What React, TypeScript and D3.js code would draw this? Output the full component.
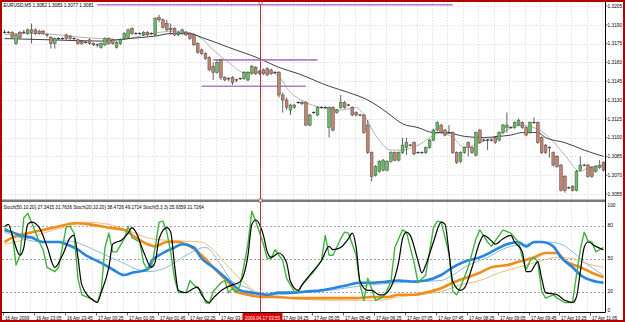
import React, { useEffect, useRef } from 'react';
import * as d3 from 'd3';

// header texts as shown on the chart
const symbolText = 'EURUSD,M5  1.3082 1.3083 1.3077 1.3081';
const stochText = 'Stoch(50,10,20) 27.3415 31.7636  Stoch(20,10,20) 38.4726 49.1714  Stoch(5,3,3) 25.9359 21.7264';

const firstBarTime = new Date(2009, 3, 16, 22, 25);
const barMinutes = 5;
const cursorTime = new Date(2009, 3, 17, 3, 55);
const cursorLabel = '2009.04.17 03:55';

const tickTimes = [
  new Date(2009, 3, 16, 22, 25), new Date(2009, 3, 16, 23, 5), new Date(2009, 3, 16, 23, 45),
  new Date(2009, 3, 17, 0, 25), new Date(2009, 3, 17, 1, 5), new Date(2009, 3, 17, 1, 45),
  new Date(2009, 3, 17, 2, 25), new Date(2009, 3, 17, 3, 5), new Date(2009, 3, 17, 3, 45),
  new Date(2009, 3, 17, 4, 25), new Date(2009, 3, 17, 5, 5), new Date(2009, 3, 17, 5, 45),
  new Date(2009, 3, 17, 6, 25), new Date(2009, 3, 17, 7, 5), new Date(2009, 3, 17, 7, 45),
  new Date(2009, 3, 17, 8, 25), new Date(2009, 3, 17, 9, 5), new Date(2009, 3, 17, 9, 45),
  new Date(2009, 3, 17, 10, 25), new Date(2009, 3, 17, 11, 5)
];
const tickLabels = [
  '16 Apr 2009', '16 Apr 23:05', '16 Apr 23:45', '17 Apr 00:25', '17 Apr 01:05', '17 Apr 01:45',
  '17 Apr 02:25', '17 Apr 03:05', '17 Apr 03:45', '17 Apr 04:25', '17 Apr 05:05', '17 Apr 05:45',
  '17 Apr 06:25', '17 Apr 07:05', '17 Apr 07:45', '17 Apr 08:25', '17 Apr 09:05', '17 Apr 09:45',
  '17 Apr 10:25', '17 Apr 11:05'
];

const priceTicks = [1.3055, 1.307, 1.3085, 1.31, 1.3115, 1.313, 1.3145, 1.316, 1.3175, 1.319, 1.3205];
const stochTicks = [0, 20, 50, 80, 100];
const stochLevels = [20, 50, 80];

// OHLC, one entry per M5 bar
const opens = [
  1.3184, 1.3184, 1.3184, 1.3175, 1.3184, 1.3184, 1.3183, 1.3186, 1.3186, 1.3185,
  1.3185, 1.3182, 1.3180, 1.3175, 1.3179, 1.3179, 1.3182, 1.3181, 1.3179, 1.3178,
  1.3177, 1.3176, 1.3178, 1.3175, 1.3174, 1.3172, 1.3174, 1.3179, 1.3178, 1.3172,
  1.3175, 1.3179, 1.3180, 1.3187, 1.3183, 1.3183, 1.3182, 1.3184, 1.3183, 1.3182,
  1.3196, 1.3194, 1.3191, 1.3187, 1.3187, 1.3182, 1.3183, 1.3184, 1.3183, 1.3182,
  1.3175, 1.3170, 1.3167, 1.3164, 1.3157, 1.3152, 1.3162, 1.3148, 1.3147, 1.3148,
  1.3146, 1.3147, 1.3147, 1.3146, 1.3151, 1.3156, 1.3153, 1.3154, 1.3155, 1.3154,
  1.3152, 1.3152, 1.3134, 1.3130, 1.3122, 1.3124, 1.3128, 1.3128, 1.3128, 1.3110,
  1.3120, 1.3118, 1.3124, 1.3124, 1.3108, 1.3124, 1.3120, 1.3124, 1.3128, 1.3126,
  1.3124, 1.3120, 1.3118, 1.3118, 1.3110, 1.3088, 1.3070, 1.3073, 1.3074, 1.3074,
  1.3081, 1.3088, 1.3082, 1.3088, 1.3092, 1.3094, 1.3096, 1.3088, 1.3088, 1.3088,
  1.3092, 1.3098, 1.3106, 1.3110, 1.3106, 1.3104, 1.3104, 1.3088, 1.3081, 1.3088,
  1.3096, 1.3092, 1.3086, 1.3106, 1.3098, 1.3098, 1.3098, 1.3100, 1.3098, 1.3104,
  1.3108, 1.3108, 1.3108, 1.3110, 1.3112, 1.3108, 1.3104, 1.3112, 1.3112, 1.3100,
  1.3094, 1.3092, 1.3088, 1.3085, 1.3078, 1.3069, 1.3060, 1.3061, 1.3058, 1.3074,
  1.3078, 1.3078, 1.3076, 1.3073, 1.3076, 1.3080
];
const highs = [
  1.3186, 1.3185, 1.3185, 1.3183, 1.3185, 1.3186, 1.3187, 1.3191, 1.3187, 1.3186,
  1.3186, 1.3183, 1.3181, 1.3180, 1.3180, 1.3180, 1.3183, 1.3182, 1.3180, 1.3179,
  1.3178, 1.3177, 1.3179, 1.3176, 1.3175, 1.3176, 1.3180, 1.3180, 1.3179, 1.3177,
  1.3179, 1.3184, 1.3187, 1.3188, 1.3184, 1.3184, 1.3185, 1.3185, 1.3184, 1.3196,
  1.3198, 1.3195, 1.3194, 1.3191, 1.3188, 1.3185, 1.3187, 1.3185, 1.3184, 1.3183,
  1.3176, 1.3171, 1.3168, 1.3165, 1.3160, 1.3162, 1.3163, 1.3149, 1.3148, 1.3149,
  1.3147, 1.3148, 1.3153, 1.3153, 1.3158, 1.3157, 1.3154, 1.3155, 1.3156, 1.3155,
  1.3153, 1.3153, 1.3136, 1.3132, 1.3127, 1.3127, 1.3129, 1.3129, 1.3129, 1.3119,
  1.3121, 1.3125, 1.3125, 1.3125, 1.3125, 1.3125, 1.3123, 1.3134, 1.3129, 1.3127,
  1.3125, 1.3121, 1.3119, 1.3119, 1.3114, 1.3089, 1.3078, 1.3082, 1.3083, 1.3082,
  1.3089, 1.3089, 1.3089, 1.3100, 1.3100, 1.3095, 1.3097, 1.3089, 1.3089, 1.3093,
  1.3099, 1.3107, 1.3113, 1.3111, 1.3107, 1.3110, 1.3105, 1.3089, 1.3089, 1.3093,
  1.3097, 1.3093, 1.3105, 1.3107, 1.3099, 1.3099, 1.3099, 1.3101, 1.3105, 1.3111,
  1.3120, 1.3109, 1.3113, 1.3115, 1.3113, 1.3109, 1.3113, 1.3116, 1.3113, 1.3101,
  1.3095, 1.3093, 1.3089, 1.3086, 1.3079, 1.3070, 1.3061, 1.3062, 1.3074, 1.3085,
  1.3079, 1.3079, 1.3077, 1.3078, 1.3082, 1.3081
];
const lows = [
  1.3183, 1.3183, 1.3179, 1.3174, 1.3179, 1.3183, 1.3182, 1.3175, 1.3182, 1.3182,
  1.3182, 1.3180, 1.3171, 1.3171, 1.3178, 1.3178, 1.3178, 1.3178, 1.3177, 1.3174,
  1.3174, 1.3175, 1.3174, 1.3173, 1.3172, 1.3171, 1.3173, 1.3174, 1.3174, 1.3171,
  1.3174, 1.3178, 1.3179, 1.3182, 1.3182, 1.3182, 1.3181, 1.3181, 1.3182, 1.3181,
  1.3192, 1.3187, 1.3185, 1.3182, 1.3181, 1.3181, 1.3182, 1.3181, 1.3178, 1.3173,
  1.3167, 1.3166, 1.3162, 1.3153, 1.3146, 1.3151, 1.3146, 1.3145, 1.3145, 1.3142,
  1.3144, 1.3146, 1.3146, 1.3145, 1.3150, 1.3150, 1.3150, 1.3150, 1.3149, 1.3150,
  1.3151, 1.3132, 1.3120, 1.3122, 1.3118, 1.3123, 1.3127, 1.3126, 1.3109, 1.3109,
  1.3119, 1.3117, 1.3123, 1.3123, 1.3100, 1.3105, 1.3119, 1.3123, 1.3123, 1.3125,
  1.3117, 1.3117, 1.3117, 1.3103, 1.3087, 1.3065, 1.3069, 1.3072, 1.3073, 1.3073,
  1.3080, 1.3081, 1.3081, 1.3087, 1.3086, 1.3093, 1.3086, 1.3087, 1.3087, 1.3087,
  1.3091, 1.3097, 1.3105, 1.3103, 1.3101, 1.3103, 1.3087, 1.3079, 1.3080, 1.3087,
  1.3085, 1.3087, 1.3085, 1.3095, 1.3097, 1.3090, 1.3097, 1.3095, 1.3097, 1.3103,
  1.3104, 1.3107, 1.3107, 1.3109, 1.3107, 1.3101, 1.3103, 1.3111, 1.3095, 1.3087,
  1.3087, 1.3084, 1.3077, 1.3076, 1.3057, 1.3056, 1.3059, 1.3057, 1.3057, 1.3073,
  1.3077, 1.3068, 1.3068, 1.3072, 1.3075, 1.3073
];
const closes = [
  1.3184, 1.3184, 1.3180, 1.3182, 1.3180, 1.3184, 1.3186, 1.3184, 1.3183, 1.3183,
  1.3183, 1.3182, 1.3175, 1.3179, 1.3179, 1.3179, 1.3179, 1.3179, 1.3179, 1.3175,
  1.3175, 1.3176, 1.3175, 1.3174, 1.3174, 1.3175, 1.3179, 1.3175, 1.3175, 1.3176,
  1.3178, 1.3183, 1.3186, 1.3183, 1.3183, 1.3183, 1.3184, 1.3182, 1.3183, 1.3195,
  1.3194, 1.3188, 1.3186, 1.3186, 1.3182, 1.3184, 1.3186, 1.3182, 1.3179, 1.3174,
  1.3168, 1.3167, 1.3163, 1.3154, 1.3152, 1.3160, 1.3148, 1.3146, 1.3147, 1.3144,
  1.3146, 1.3147, 1.3152, 1.3152, 1.3157, 1.3151, 1.3151, 1.3151, 1.3150, 1.3151,
  1.3152, 1.3134, 1.3130, 1.3124, 1.3126, 1.3126, 1.3128, 1.3127, 1.3110, 1.3118,
  1.3120, 1.3124, 1.3124, 1.3124, 1.3124, 1.3106, 1.3122, 1.3128, 1.3124, 1.3126,
  1.3118, 1.3118, 1.3118, 1.3104, 1.3088, 1.3069, 1.3077, 1.3081, 1.3082, 1.3081,
  1.3088, 1.3082, 1.3088, 1.3094, 1.3096, 1.3094, 1.3087, 1.3088, 1.3088, 1.3092,
  1.3098, 1.3106, 1.3112, 1.3104, 1.3102, 1.3104, 1.3088, 1.3080, 1.3088, 1.3092,
  1.3092, 1.3088, 1.3104, 1.3096, 1.3098, 1.3098, 1.3098, 1.3096, 1.3104, 1.3110,
  1.3110, 1.3108, 1.3112, 1.3114, 1.3108, 1.3102, 1.3112, 1.3112, 1.3096, 1.3088,
  1.3088, 1.3092, 1.3078, 1.3077, 1.3058, 1.3058, 1.3060, 1.3058, 1.3073, 1.3078,
  1.3078, 1.3069, 1.3069, 1.3077, 1.3078, 1.3074
];

// moving averages on price, [bar, price]
const maSlow = [
  [0, 1.3179], [12, 1.3178], [25, 1.3177], [32, 1.3179], [39, 1.3181], [43, 1.3183], [48, 1.3183],
  [51, 1.3180], [58, 1.3172], [66, 1.3163], [71, 1.3156], [76, 1.3151], [84, 1.3141], [89, 1.3136],
  [94, 1.3130], [99, 1.3120], [103, 1.3111], [107, 1.3108], [111, 1.3104], [114, 1.3104],
  [119, 1.3101], [124, 1.3100], [128, 1.3101], [131, 1.3102], [134, 1.3104], [138, 1.3104],
  [140, 1.3100], [145, 1.3096], [150, 1.3090], [155, 1.3085]
];
const maFast = [
  [0, 1.3182], [4, 1.3183], [9, 1.3183], [14, 1.3182], [20, 1.3180], [25, 1.3179], [30, 1.3178],
  [35, 1.3181], [40, 1.3184], [45, 1.3185], [51, 1.3179], [54, 1.3170], [58, 1.3160], [62, 1.3152],
  [66, 1.3152], [70, 1.3151], [74, 1.3136], [78, 1.3128], [82, 1.3124], [87, 1.3122], [91, 1.3124],
  [93, 1.3118], [96, 1.3102], [100, 1.3090], [103, 1.3090], [107, 1.3094], [113, 1.3104],
  [116, 1.3100], [119, 1.3092], [123, 1.3096], [128, 1.3102], [133, 1.3110], [137, 1.3108],
  [141, 1.3100], [145, 1.3086], [149, 1.3073], [151, 1.3076], [155, 1.3078]
];

// purple horizontal lines: [fromBar, toBar, price]
const levelLines = [
  [24, 116, 1.3206],
  [54, 81, 1.3162],
  [51, 78, 1.3141]
];

// stochastics, [bar, value]
const stoch5Main = [
  [0, 78], [2, 73], [3, 44], [4, 53], [5, 87], [6, 91], [7, 83], [9, 65], [10, 58], [11, 42],
  [13, 38], [14, 42], [16, 79], [17, 79], [18, 73], [19, 32], [20, 17], [22, 14], [24, 10], [25, 20],
  [26, 60], [27, 73], [28, 56], [29, 56], [31, 68], [32, 79], [33, 69], [35, 65], [36, 46], [37, 40],
  [38, 42], [39, 60], [40, 83], [41, 84], [42, 74], [43, 56], [44, 32], [45, 19], [47, 19], [48, 30],
  [49, 26], [51, 20], [52, 10], [53, 9], [54, 20], [56, 28], [57, 30], [58, 19], [59, 23], [60, 19],
  [61, 26], [63, 63], [64, 93], [65, 84], [67, 63], [68, 50], [69, 50], [70, 58], [72, 48], [73, 32],
  [75, 20], [76, 20], [77, 26], [80, 38], [82, 48], [83, 71], [84, 53], [85, 53], [87, 68], [88, 74],
  [89, 73], [91, 53], [92, 26], [93, 12], [94, 32], [95, 23], [96, 12], [98, 15], [99, 21], [100, 29],
  [101, 60], [103, 76], [104, 74], [106, 46], [107, 28], [109, 35], [111, 78], [112, 84], [113, 83],
  [115, 55], [116, 20], [117, 17], [118, 24], [120, 42], [122, 68], [123, 76], [125, 65], [126, 61],
  [127, 66], [129, 76], [131, 73], [133, 65], [134, 51], [135, 40], [136, 48], [137, 51], [138, 47],
  [139, 20], [140, 14], [142, 17], [143, 14], [145, 10], [147, 10], [148, 35], [149, 58], [150, 74],
  [151, 66], [152, 65], [153, 56], [155, 60]
];
const stoch5Signal = [
  [0, 79], [1, 81], [2, 71], [4, 53], [5, 60], [6, 81], [7, 83], [9, 78], [11, 61], [13, 42],
  [15, 53], [17, 69], [18, 71], [19, 51], [20, 26], [23, 12], [24, 10], [25, 19], [27, 42], [28, 63],
  [29, 65], [30, 66], [32, 73], [33, 78], [34, 74], [36, 56], [38, 42], [39, 47], [40, 68], [42, 78],
  [43, 74], [44, 44], [45, 21], [47, 19], [49, 23], [50, 24], [51, 17], [53, 10], [54, 14], [57, 23],
  [59, 26], [61, 29], [63, 53], [64, 81], [65, 85], [67, 71], [68, 56], [69, 51], [71, 55], [73, 46],
  [74, 29], [76, 21], [77, 26], [79, 35], [82, 48], [84, 61], [85, 58], [87, 60], [89, 68], [90, 73],
  [91, 60], [92, 29], [94, 21], [95, 21], [97, 17], [98, 17], [100, 24], [102, 47], [103, 68],
  [104, 74], [105, 71], [107, 48], [108, 37], [109, 44], [111, 65], [113, 83], [114, 81], [115, 56],
  [116, 29], [118, 21], [119, 23], [121, 42], [123, 65], [124, 71], [126, 66], [127, 63], [129, 68],
  [131, 71], [132, 65], [134, 56], [135, 38], [136, 38], [138, 47], [139, 32], [140, 19], [143, 17],
  [145, 12], [147, 10], [148, 15], [149, 38], [150, 60], [151, 65], [153, 61], [155, 58]
];
const stoch20Main = [
  [0, 76], [2, 74], [4, 71], [7, 69], [10, 65], [14, 65], [16, 63], [19, 58], [21, 53], [25, 46],
  [28, 40], [31, 35], [33, 37], [37, 40], [38, 47], [41, 55], [44, 60], [46, 63], [49, 60], [51, 50],
  [54, 42], [58, 30], [61, 21], [64, 19], [68, 17], [71, 19], [75, 19], [78, 20], [82, 21], [85, 23],
  [89, 26], [92, 28], [95, 28], [99, 29], [102, 30], [106, 29], [109, 30], [113, 35], [116, 42],
  [119, 47], [123, 51], [126, 56], [130, 63], [133, 65], [135, 61], [137, 65], [139, 65], [142, 61],
  [144, 51], [147, 42], [149, 35], [152, 30], [155, 28]
];
const stoch20Signal = [
  [0, 74], [10, 65], [16, 66], [25, 55], [30, 47], [37, 38], [42, 42], [47, 53], [52, 60], [56, 44],
  [59, 29], [63, 23], [66, 17], [71, 17], [76, 19], [84, 21], [92, 25], [102, 28], [107, 29],
  [113, 30], [116, 35], [119, 42], [125, 51], [130, 60], [135, 63], [140, 65], [144, 63], [147, 56],
  [150, 47], [155, 35]
];
const stoch50Main = [
  [0, 65], [2, 69], [6, 73], [10, 76], [14, 79], [18, 82], [22, 81], [27, 78], [31, 76], [34, 69],
  [37, 63], [39, 61], [42, 65], [45, 65], [48, 61], [51, 53], [54, 42], [58, 28], [60, 20], [63, 17],
  [67, 15], [70, 15], [75, 14], [79, 14], [83, 14], [87, 14], [91, 14], [95, 15], [99, 15], [102, 17],
  [106, 17], [109, 19], [113, 23], [116, 28], [119, 32], [123, 37], [126, 42], [130, 44], [133, 47],
  [137, 51], [140, 55], [143, 55], [145, 48], [149, 42], [152, 37], [155, 33]
];
const stoch50Signal = [
  [0, 63], [4, 66], [10, 73], [16, 79], [21, 83], [27, 81], [33, 74], [38, 68], [45, 66], [51, 65],
  [53, 61], [58, 42], [62, 28], [65, 20], [68, 17], [74, 14], [84, 12], [97, 12], [102, 15],
  [107, 17], [113, 20], [118, 26], [123, 30], [128, 37], [133, 42], [138, 47], [143, 51], [147, 50],
  [150, 46], [155, 42]
];

const FONT = '"Liberation Sans", Arial, sans-serif';

export default function App() {
  const ref = useRef<SVGSVGElement>(null);

  useEffect(() => {
    const svg = d3.select(ref.current);
    svg.selectAll('*').remove();

    const left = 2, right = 605.5;
    const mainTop = 2, mainBottom = 199;
    const subTop = 202, subBottom = 312.5;
    const n = closes.length;

    const barTime = (i: number) => new Date(firstBarTime.getTime() + i * barMinutes * 60000);
    const x = d3.scaleTime().domain([barTime(0), barTime(n - 1)]).range([4.5, 603.5]);
    const xb = (i: number) => x(barTime(i));
    const y = d3.scaleLinear().domain([1.3055, 1.3205]).range([194, 6]);
    const ys = d3.scaleLinear().domain([0, 100]).range([313.5, 203.5]);

    svg.append('rect').attr('width', 625).attr('height', 322).attr('fill', '#fff');

    // cursor position and its date box on the time axis
    const cx = Math.round(x(cursorTime)) + 0.5;
    const boxLeft = cx - 18, boxWidth = 40;

    const defs = svg.append('defs');
    defs.append('clipPath').attr('id', 'clipMain').append('rect')
      .attr('x', left).attr('y', mainTop).attr('width', right - left).attr('height', mainBottom - mainTop);
    defs.append('clipPath').attr('id', 'clipSub').append('rect')
      .attr('x', left).attr('y', subTop).attr('width', right - left).attr('height', subBottom - subTop);
    defs.append('clipPath').attr('id', 'clipTime').append('rect')
      .attr('x', 0).attr('y', subBottom).attr('width', boxLeft).attr('height', 10);

    // grid
    const grid = svg.append('g').attr('stroke', '#d4d4d4').attr('stroke-width', 0.7).attr('stroke-dasharray', '1.5,1.5');
    const gridTimes = d3.timeMinute.every(20)!.range(barTime(0), barTime(n));
    gridTimes.forEach((t) => {
      const gx = Math.round(x(t) - 1.5) + 0.5;
      grid.append('line').attr('x1', gx).attr('x2', gx).attr('y1', mainTop).attr('y2', mainBottom);
      grid.append('line').attr('x1', gx).attr('x2', gx).attr('y1', subTop).attr('y2', subBottom);
    });
    priceTicks.forEach((p) => {
      const gy = Math.round(y(p)) + 0.5;
      grid.append('line').attr('x1', left).attr('x2', right).attr('y1', gy).attr('y2', gy);
    });
    const lv = svg.append('g').attr('stroke', '#8c8c8c').attr('stroke-width', 0.8).attr('stroke-dasharray', '2,2');
    stochLevels.forEach((v) => {
      const gy = Math.round(ys(v)) + 0.5;
      lv.append('line').attr('x1', left).attr('x2', right).attr('y1', gy).attr('y2', gy);
    });

    // main panel
    const main = svg.append('g').attr('clip-path', 'url(#clipMain)');
    const priceLine = d3.line<number[]>().x((d) => xb(d[0])).y((d) => y(d[1])).curve(d3.curveMonotoneX);
    main.append('path').attr('d', priceLine(maFast)).attr('fill', 'none').attr('stroke', '#a8a8a8').attr('stroke-width', 0.9);
    main.append('path').attr('d', priceLine(maSlow)).attr('fill', 'none').attr('stroke', '#2a2a2a').attr('stroke-width', 0.9);

    levelLines.forEach(([a, b, p]) => {
      main.append('line').attr('x1', xb(a)).attr('x2', xb(b)).attr('y1', y(p)).attr('y2', y(p))
        .attr('stroke', '#b07ec8').attr('stroke-width', 1.6);
    });

    const candles = main.append('g');
    d3.range(n).forEach((i) => {
      const bx = xb(i);
      const o = opens[i], c = closes[i];
      candles.append('line').attr('x1', bx).attr('x2', bx).attr('y1', y(highs[i])).attr('y2', y(lows[i]))
        .attr('stroke', '#3a3a3a').attr('stroke-width', 0.8);
      if (o === c) {
        candles.append('line').attr('x1', bx - 1.6).attr('x2', bx + 1.6).attr('y1', y(c)).attr('y2', y(c))
          .attr('stroke', '#222').attr('stroke-width', 0.9);
      } else {
        const top = y(Math.max(o, c)), bot = y(Math.min(o, c));
        candles.append('rect').attr('x', bx - 1.4).attr('width', 2.8)
          .attr('y', top).attr('height', Math.max(1, bot - top))
          .attr('fill', c > o ? '#62c062' : '#c8826c')
          .attr('stroke', '#4a4a4a').attr('stroke-width', 0.5);
      }
    });

    // stochastic panel
    const sub = svg.append('g').attr('clip-path', 'url(#clipSub)');
    const smooth = d3.line<number[]>().x((d) => xb(d[0])).y((d) => ys(d[1])).curve(d3.curveMonotoneX);
    const sharp = d3.line<number[]>().x((d) => xb(d[0])).y((d) => ys(d[1])).curve(d3.curveLinear);
    const series: [number[][], string, number, any][] = [
      [stoch50Signal, '#f2b36a', 0.9, smooth],
      [stoch20Signal, '#7fb3de', 0.9, smooth],
      [stoch50Main, '#f28c1a', 2.6, smooth],
      [stoch20Main, '#2784df', 2.6, smooth],
      [stoch5Main, '#3fb23f', 1.4, sharp],
      [stoch5Signal, '#000', 1.2, smooth]
    ];
    series.forEach(([d, col, w, gen]) => {
      sub.append('path').attr('d', gen(d)).attr('fill', 'none').attr('stroke', col)
        .attr('stroke-width', w).attr('stroke-linejoin', 'round');
    });

    // separator and axes
    svg.append('rect').attr('x', left).attr('y', 199.5).attr('width', right - left).attr('height', 2.5).attr('fill', '#7a7a7a');
    svg.append('line').attr('x1', right).attr('x2', right).attr('y1', mainTop).attr('y2', subBottom)
      .attr('stroke', '#000').attr('stroke-width', 1);
    svg.append('line').attr('x1', left).attr('x2', right).attr('y1', subBottom).attr('y2', subBottom)
      .attr('stroke', '#000').attr('stroke-width', 1);

    // cursor
    svg.append('line').attr('x1', cx).attr('x2', cx).attr('y1', mainTop).attr('y2', subBottom)
      .attr('stroke', '#a83a3a').attr('stroke-width', 1);
    [mainTop + 1, 200.5].forEach((my) => {
      svg.append('rect').attr('x', cx - 1.5).attr('y', my - 1.5).attr('width', 3).attr('height', 3)
        .attr('fill', '#fff').attr('stroke', '#a83a3a').attr('stroke-width', 0.7);
    });

    const txt = svg.append('g').attr('font-family', FONT).attr('fill', '#000');
    // price axis
    priceTicks.forEach((p) => {
      const py = y(p);
      txt.append('line').attr('x1', right).attr('x2', right + 2).attr('y1', py).attr('y2', py).attr('stroke', '#000').attr('stroke-width', 0.6);
      txt.append('text').attr('x', 607.5).attr('y', py + 1.7).attr('font-size', 4.8).text(p.toFixed(4));
    });
    stochTicks.forEach((v) => {
      let py = ys(v);
      if (v === 100) py = 205.7;
      if (v === 0) py = 310.7;
      txt.append('text').attr('x', 607.5).attr('y', py + 1.7).attr('font-size', 4.8).text(String(v));
    });
    // time axis; a label that starts under the cursor date box is hidden as on the chart
    tickTimes.forEach((t, i) => {
      const tx = Math.round(x(t) - 1.5) + 0.5;
      txt.append('line').attr('x1', tx).attr('x2', tx).attr('y1', subBottom).attr('y2', subBottom + 3)
        .attr('stroke', '#000').attr('stroke-width', 0.6);
      if (tx >= boxLeft && tx + 1.5 < boxLeft + boxWidth) return;
      const label = txt.append('text').attr('x', tx + 1.5).attr('y', 319.5).attr('font-size', 4.5).text(tickLabels[i]);
      if (tx < boxLeft && tx + 27 > boxLeft) label.attr('clip-path', 'url(#clipTime)');
    });
    txt.append('rect').attr('x', boxLeft).attr('y', 313).attr('width', boxWidth).attr('height', 8.5).attr('fill', '#e00000');
    txt.append('text').attr('x', boxLeft + boxWidth / 2).attr('y', 319.5).attr('font-size', 4.5).attr('fill', '#fff')
      .attr('text-anchor', 'middle').text(cursorLabel);

    txt.append('text').attr('x', 3.5).attr('y', 7).attr('font-size', 4.7).text(symbolText);
    txt.append('text').attr('x', 3.5).attr('y', 209).attr('font-size', 4.6).text(stochText);

    // window frame
    svg.append('rect').attr('x', 1).attr('y', 1).attr('width', 623).attr('height', 320)
      .attr('fill', 'none').attr('stroke', '#b40000').attr('stroke-width', 2);
  }, []);

  return (
    <svg ref={ref} width={625} height={322}
      style={{ position: 'absolute', left: 0, top: 0, display: 'block' }} />
  );
}
